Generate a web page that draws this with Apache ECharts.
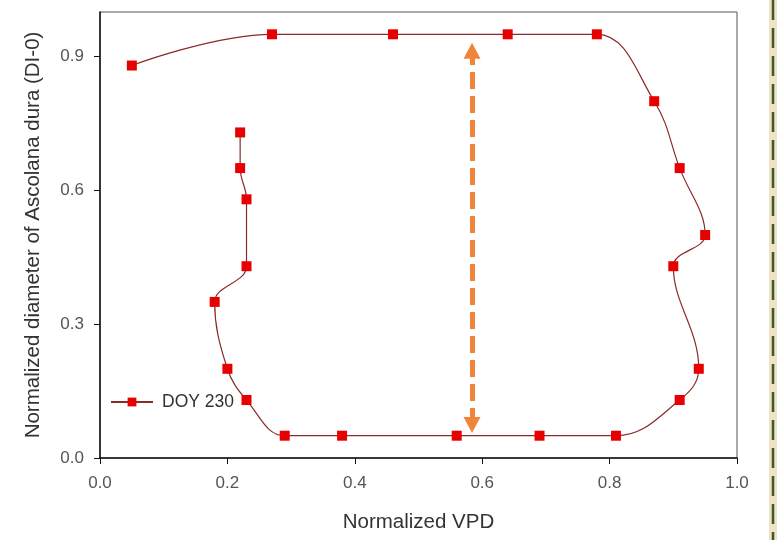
<!DOCTYPE html>
<html>
<head>
<meta charset="utf-8">
<script src="https://cdn.jsdelivr.net/npm/echarts@6/dist/echarts.min.js"></script>
<style>
  html, body { margin: 0; padding: 0; background: #fff; }
  #main { width: 777px; height: 540px; }
</style>
</head>
<body>
<div id="main"></div>
<script>
// 曲线数据 (DOY 230)，按环路顺序
var vpd = [0.22, 0.22, 0.23, 0.23, 0.18, 0.20, 0.23, 0.29, 0.38, 0.56, 0.69, 0.81,
           0.91, 0.94, 0.90, 0.95, 0.91, 0.87, 0.78, 0.64, 0.46, 0.27, 0.05];
var diameter = [0.73, 0.65, 0.58, 0.43, 0.35, 0.20, 0.13, 0.05, 0.05, 0.05, 0.05, 0.05,
                0.13, 0.20, 0.43, 0.50, 0.65, 0.80, 0.95, 0.95, 0.95, 0.95, 0.88];
// 橙色双向箭头
var arrowX = [0.584, 0.584];
var arrowY = [0.074, 0.913];
var yTicks = [0, 0.3, 0.6, 0.9];
var xTicks = [0, 0.2, 0.4, 0.6, 0.8, 1.0];

var points = vpd.map(function (x, i) { return [x, diameter[i]]; });

var myChart = echarts.init(document.getElementById('main'));

var option = {
    backgroundColor: '#fff',
    animation: false,
    grid: {
        left: 100, right: 40, top: 12, bottom: 82,
        show: true, borderColor: '#555', borderWidth: 1
    },
    legend: {
        left: 105, top: 388,
        itemWidth: 42, itemHeight: 11, itemGap: 10,
        textStyle: { fontFamily: 'Liberation Sans', fontSize: 17.5, color: '#333', padding: [0, 0, 0, 4] },
        data: ['DOY 230']
    },
    xAxis: {
        type: 'value', min: 0, max: 1, interval: 0.2,
        name: 'Normalized VPD', nameLocation: 'middle', nameGap: 54,
        nameTextStyle: { fontFamily: 'Liberation Sans', fontSize: 20.5, color: '#333' },
        axisLine: { lineStyle: { color: '#111', width: 1.5 } },
        axisTick: { inside: false, length: 6, lineStyle: { color: '#111' }, customValues: xTicks },
        axisLabel: {
            fontFamily: 'Liberation Sans', fontSize: 17, color: '#555', margin: 17,
            customValues: xTicks,
            formatter: function (v) { return v.toFixed(1); }
        },
        splitLine: { show: false }
    },
    yAxis: {
        type: 'value', min: 0, max: 1, interval: 0.3,
        name: 'Normalized diameter of Ascolana dura (DI-0)', nameLocation: 'middle', nameGap: 56,
        nameTextStyle: { fontFamily: 'Liberation Sans', fontSize: 20.5, color: '#333' },
        axisLine: { lineStyle: { color: '#111', width: 1.5 } },
        axisTick: { inside: false, length: 6, lineStyle: { color: '#111' }, customValues: yTicks },
        axisLabel: {
            fontFamily: 'Liberation Sans', fontSize: 17, color: '#555', margin: 16,
            customValues: yTicks,
            formatter: function (v) { return v.toFixed(1); }
        },
        splitLine: { show: false }
    },
    series: [
        {
            name: 'DOY 230',
            type: 'line',
            data: points,
            smooth: 0.4,
            symbol: 'rect',
            symbolSize: 10,
            itemStyle: { color: '#e80000' },
            lineStyle: { color: '#8a2a2a', width: 1.2 },
            z: 3
        },
        {
            name: 'arrow',
            type: 'line',
            data: [],
            silent: true,
            markLine: {
                silent: true,
                symbol: ['triangle', 'triangle'],
                symbolSize: [17, 16],
                label: { show: false },
                lineStyle: { color: '#f0843a', width: 5, type: [17, 7] },
                data: [[
                    { coord: [arrowX[0], arrowY[0]] },
                    { coord: [arrowX[1], arrowY[1]] }
                ]]
            }
        }
    ],
    graphic: [
        {
            type: 'rect', left: 769, top: 0,
            shape: { width: 8, height: 540 },
            style: { fill: '#f0e2c4' }
        },
        {
            type: 'line',
            shape: { x1: 773, y1: 0, x2: 773, y2: 540 },
            style: { stroke: '#3d5a28', lineWidth: 2.5, lineDash: [20, 8] }
        }
    ]
};

myChart.setOption(option);
</script>
</body>
</html>
